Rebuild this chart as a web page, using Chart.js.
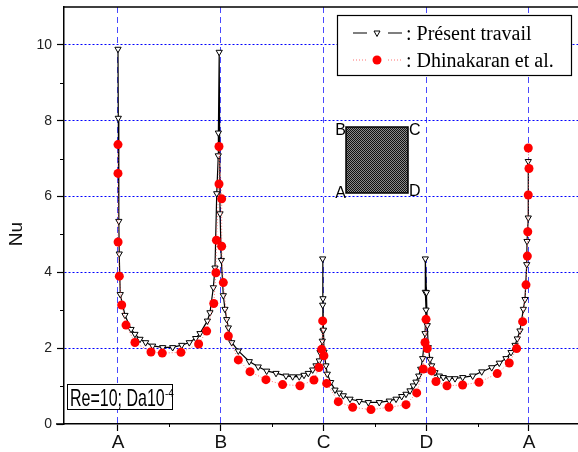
<!DOCTYPE html>
<html>
<head>
<meta charset="utf-8">
<script src="https://cdn.jsdelivr.net/npm/chart.js@4/dist/chart.umd.min.js"></script>
<style>
  html, body { margin: 0; padding: 0; background: #fff; }
</style>
</head>
<body>
<canvas id="nuChart" width="578" height="452"></canvas>
<script>
// position along the cylinder surface: A=0, B=1, C=2, D=3, back to A=4
const presentX = [
  0.000, 0.003, 0.008, 0.012, 0.022, 0.068, 0.127, 0.165, 0.214, 0.269, 0.337, 0.435, 0.532,
  0.620, 0.694, 0.756, 0.798, 0.870, 0.895, 0.928, 0.944, 0.961, 0.976, 0.977, 0.985,
  0.993, 1.006, 1.025, 1.041, 1.058, 1.074, 1.107, 1.171, 1.278, 1.365, 1.447, 1.538, 1.635,
  1.700, 1.764, 1.810, 1.852, 1.895, 1.927, 1.959, 1.966, 1.988, 1.995, 1.992, 1.992,
  1.995, 2.000, 2.005, 2.024, 2.037, 2.070, 2.112, 2.154, 2.193, 2.258, 2.348, 2.436, 2.543,
  2.640, 2.706, 2.761, 2.803, 2.842, 2.874, 2.900, 2.927, 2.946, 2.965, 2.988, 2.998, 2.991, 2.991,
  3.002, 3.010, 3.020, 3.036, 3.053, 3.085, 3.127, 3.166, 3.224, 3.280, 3.355, 3.452, 3.540,
  3.637, 3.711, 3.776, 3.825, 3.864, 3.886, 3.912, 3.945, 3.961, 3.978, 3.981, 3.993, 3.993
];
const presentNu = [
  9.89, 8.07, 5.35, 4.49, 3.42, 2.87, 2.50, 2.37, 2.24, 2.15, 2.06, 2.02, 2.02,
  2.08, 2.15, 2.26, 2.39, 2.72, 2.94, 3.60, 4.12, 6.08, 7.08, 7.68, 9.81,
  5.55, 4.32, 3.39, 3.03, 2.76, 2.54, 2.15, 1.93, 1.65, 1.51, 1.40, 1.34, 1.27,
  1.25, 1.25, 1.29, 1.34, 1.43, 1.54, 1.67, 1.89, 2.19, 2.46, 3.14, 4.36,
  3.31, 2.48, 1.90, 1.54, 1.32, 1.10, 0.90, 0.82, 0.75, 0.66, 0.60, 0.57, 0.57,
  0.61, 0.66, 0.73, 0.79, 0.88, 1.01, 1.11, 1.27, 1.45, 1.73, 2.39, 3.01, 3.48, 4.36,
  3.47, 2.60, 2.02, 1.71, 1.54, 1.36, 1.27, 1.23, 1.20, 1.20, 1.23, 1.27, 1.38,
  1.49, 1.61, 1.73, 1.89, 2.08, 2.25, 2.46, 3.03, 3.29, 4.21, 4.82, 5.44, 6.93
];
const dhinaX = [
  0.000, 0.000, 0.001, 0.013, 0.036, 0.078, 0.165, 0.321, 0.431, 0.613, 0.785, 0.863,
  0.932, 0.953, 0.958, 0.983, 0.983,
  1.009, 1.009, 1.025, 1.074, 1.171, 1.285, 1.440, 1.602, 1.771, 1.907, 1.956, 1.982, 1.992,
  2.004, 2.031, 2.144, 2.284, 2.462, 2.637, 2.803, 2.907, 2.971, 2.988, 2.998,
  3.010, 3.053, 3.095, 3.202, 3.354, 3.513, 3.691, 3.808, 3.880, 3.938, 3.971, 3.984,
  3.988, 3.993, 4.000, 3.993
];
const dhinaNu = [
  7.37, 6.61, 4.80, 3.90, 3.14, 2.61, 2.15, 1.90, 1.87, 1.89, 2.11, 2.45,
  3.18, 3.99, 4.85, 6.33, 7.32,
  5.94, 4.69, 3.73, 2.32, 1.69, 1.38, 1.17, 1.04, 1.01, 1.16, 1.49, 1.97, 2.72,
  1.80, 1.07, 0.59, 0.44, 0.38, 0.44, 0.51, 0.82, 1.45, 2.15, 2.76,
  1.99, 1.40, 1.12, 1.01, 1.03, 1.10, 1.33, 1.61, 1.99, 2.70, 3.67, 4.43,
  5.07, 6.04, 6.74, 7.28
];
const xTickValues = [0, 1, 2, 3, 4];
const xTickLabels = ['A', 'B', 'C', 'D', 'A'];
const xMinorTicks = [0.5, 1.5, 2.5, 3.5];
const yTickValues = [0, 2, 4, 6, 8, 10];
const yMinorTicks = [1, 3, 5, 7, 9];
const seriesNames = ['Présent travail', 'Dhinakaran et al.'];
const cornerNames = ['A', 'B', 'C', 'D'];
const yTitle = 'Nu';
const caseLabel = 'Re=10; Da10';
const caseExponent = '-4';

const X_MIN = -0.5255, X_MAX = 4.477, Y_MIN = 0, Y_MAX = 11;
const SANS = '"Liberation Sans", Arial, sans-serif';
const SERIF = '"Liberation Serif", "Times New Roman", serif';

// dark checker fill for the little cylinder sketch
function checkerPattern(ctx) {
  const c = document.createElement('canvas');
  c.width = 2; c.height = 2;
  const g = c.getContext('2d');
  g.fillStyle = '#8c8c8c'; g.fillRect(0, 0, 2, 2);
  g.fillStyle = '#111'; g.fillRect(0, 0, 1, 1); g.fillRect(1, 1, 1, 1);
  return ctx.createPattern(c, 'repeat');
}

const extras = {
  id: 'extras',
  afterDraw(chart) {
    const { ctx, chartArea: area, scales: { x, y } } = chart;
    ctx.save();

    // top frame and a small stub of the x axis left of the y axis
    ctx.strokeStyle = '#000';
    ctx.lineWidth = 1.5;
    ctx.beginPath();
    ctx.moveTo(area.left, area.top); ctx.lineTo(area.right, area.top);
    ctx.moveTo(area.left - 8, area.bottom); ctx.lineTo(area.left, area.bottom);
    ctx.stroke();

    // minor ticks
    ctx.lineWidth = 1;
    ctx.beginPath();
    yMinorTicks.forEach(v => {
      const py = Math.round(y.getPixelForValue(v)) + 0.5;
      ctx.moveTo(area.left - 4, py); ctx.lineTo(area.left, py);
    });
    xMinorTicks.forEach(v => {
      const px = Math.round(x.getPixelForValue(v)) + 0.5;
      ctx.moveTo(px, area.bottom); ctx.lineTo(px, area.bottom + 3);
    });
    ctx.stroke();

    // y axis title, sits a little below the middle in the original
    ctx.save();
    ctx.translate(17, 234);
    ctx.rotate(-Math.PI / 2);
    ctx.fillStyle = '#111';
    ctx.font = '19px ' + SANS;
    ctx.textAlign = 'center';
    ctx.textBaseline = 'middle';
    ctx.fillText(yTitle, 0, 0);
    ctx.restore();

    // legend
    const lx = 337, ly = 15, lw = 234, lh = 60;
    ctx.fillStyle = '#fff';
    ctx.fillRect(lx, ly, lw, lh);
    ctx.strokeStyle = '#000';
    ctx.lineWidth = 1.2;
    ctx.strokeRect(lx + 0.5, ly + 0.5, lw, lh);

    const row1 = 33, row2 = 60;
    ctx.lineWidth = 1.2;
    ctx.beginPath();
    ctx.moveTo(353, row1); ctx.lineTo(367, row1);
    ctx.moveTo(388, row1); ctx.lineTo(402, row1);
    ctx.stroke();
    ctx.beginPath();
    ctx.moveTo(377 - 3, row1 - 2); ctx.lineTo(377 + 3, row1 - 2); ctx.lineTo(377, row1 + 3.5);
    ctx.closePath();
    ctx.fillStyle = '#fff'; ctx.fill();
    ctx.lineWidth = 1; ctx.stroke();

    ctx.strokeStyle = 'rgba(255,90,90,0.85)';
    ctx.setLineDash([1, 2]);
    ctx.beginPath();
    ctx.moveTo(353, row2); ctx.lineTo(367, row2);
    ctx.moveTo(388, row2); ctx.lineTo(402, row2);
    ctx.stroke();
    ctx.setLineDash([]);
    ctx.fillStyle = '#ff0000';
    ctx.beginPath(); ctx.arc(377, row2, 4.5, 0, Math.PI * 2); ctx.fill();

    ctx.fillStyle = '#000';
    ctx.font = '20px ' + SERIF;
    ctx.textBaseline = 'alphabetic';
    ctx.textAlign = 'left';
    ctx.fillText(': ' + seriesNames[0], 406, 40);
    ctx.fillText(': ' + seriesNames[1], 406, 67);

    // cylinder sketch with its corners
    const sx = 346, sy = 127, sw = 62, sh = 66;
    ctx.fillStyle = checkerPattern(ctx);
    ctx.fillRect(sx, sy, sw, sh);
    ctx.strokeStyle = '#000';
    ctx.lineWidth = 1.5;
    ctx.strokeRect(sx, sy, sw, sh);
    ctx.fillStyle = '#000';
    ctx.font = '16px ' + SANS;
    ctx.textBaseline = 'middle';
    ctx.textAlign = 'right';
    ctx.fillText(cornerNames[1], sx, sy + 4);
    ctx.fillText(cornerNames[0], sx, sy + sh + 1);
    ctx.textAlign = 'left';
    ctx.fillText(cornerNames[2], sx + sw + 1, sy + 4);
    ctx.fillText(cornerNames[3], sx + sw + 1, sy + sh - 1);

    // case label box
    ctx.fillStyle = '#fff';
    ctx.fillRect(67, 384, 105, 25);
    ctx.strokeStyle = '#000';
    ctx.lineWidth = 1;
    ctx.strokeRect(67.5, 384.5, 105, 25);
    ctx.fillStyle = '#000';
    ctx.textAlign = 'left';
    ctx.textBaseline = 'alphabetic';
    ctx.save();
    ctx.translate(70, 406);
    ctx.scale(1, 1.5);
    ctx.font = '16px ' + SANS;
    ctx.fillText(caseLabel, 0, 0);
    ctx.restore();
    ctx.font = '10px ' + SANS;
    ctx.fillText(caseExponent, 165, 397);

    ctx.restore();
  }
};

new Chart(document.getElementById('nuChart'), {
  type: 'scatter',
  data: {
    datasets: [
      {
        label: seriesNames[1],
        data: dhinaX.map((v, i) => ({ x: v, y: dhinaNu[i] })),
        showLine: true,
        borderColor: 'rgba(255,90,90,0.85)',
        borderWidth: 1,
        borderDash: [1, 2],
        pointStyle: 'circle',
        pointRadius: 4.5,
        pointBackgroundColor: '#ff0000',
        pointBorderColor: '#ff0000',
        pointBorderWidth: 0,
        order: 0
      },
      {
        label: seriesNames[0],
        data: presentX.map((v, i) => ({ x: v, y: presentNu[i] })),
        showLine: true,
        borderColor: '#000',
        borderWidth: 1.2,
        pointStyle: 'triangle',
        pointRotation: 180,
        pointRadius: 3.6,
        pointBackgroundColor: '#fff',
        pointBorderColor: '#000',
        pointBorderWidth: 1,
        order: 1
      }
    ]
  },
  options: {
    responsive: false,
    animation: false,
    layout: { padding: { top: 7, left: 0, right: 0, bottom: 0 }, autoPadding: false },
    plugins: {
      legend: { display: false },
      tooltip: { enabled: false }
    },
    scales: {
      x: {
        type: 'linear',
        min: X_MIN,
        max: X_MAX,
        afterBuildTicks: s => { s.ticks = xTickValues.map(v => ({ value: v })); },
        afterFit: s => { s.height = 28; s.paddingLeft = 0; s.paddingRight = 0; },
        ticks: {
          callback: (v, i) => xTickLabels[i],
          font: { family: SANS, size: 19 },
          color: '#111',
          padding: 0,
          maxRotation: 0,
          autoSkip: false
        },
        grid: {
          color: 'rgba(40,40,255,0.85)',
          lineWidth: 1,
          tickColor: '#000',
          tickLength: 7,
          tickWidth: 1.2
        },
        border: { color: '#000', width: 1.5, dash: [6, 4] }
      },
      y: {
        min: Y_MIN,
        max: Y_MAX,
        afterBuildTicks: s => { s.ticks = yTickValues.map(v => ({ value: v })); },
        afterFit: s => { s.width = 64; s.paddingTop = 0; s.paddingBottom = 0; },
        ticks: {
          font: { family: SANS, size: 14 },
          color: '#222',
          padding: 5
        },
        grid: {
          color: c => (c.tick && c.tick.value === 0 ? 'rgba(0,0,0,0)' : '#0000ff'),
          lineWidth: 1,
          tickColor: '#000',
          tickLength: 7,
          tickWidth: 1.2
        },
        border: { color: '#000', width: 1.5, dash: [2, 2] }
      }
    }
  },
  plugins: [extras]
});
</script>
</body>
</html>
